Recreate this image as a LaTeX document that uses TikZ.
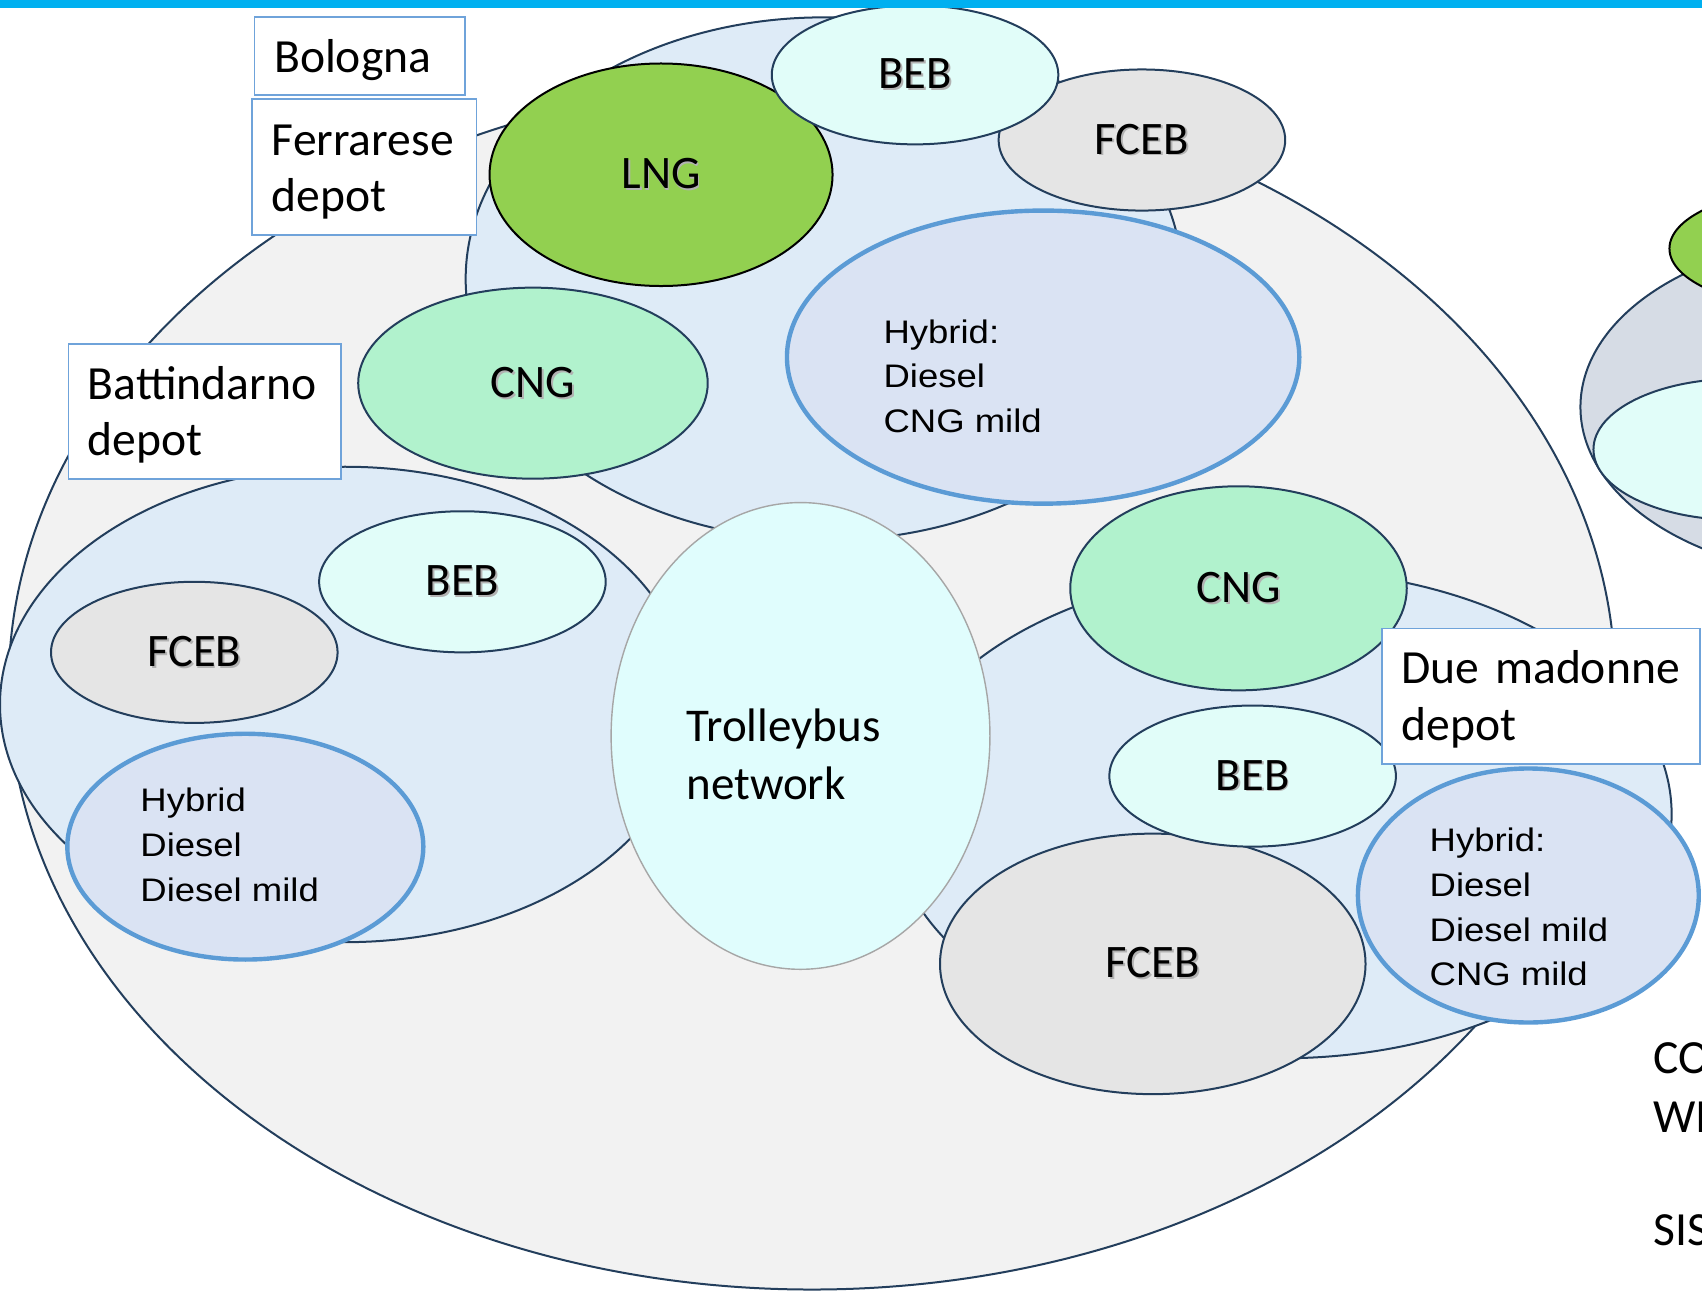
\documentclass[tikz,border=0pt]{standalone}
\usepackage{fontspec}
\setmainfont{Carlito}
\newfontfamily\hyfont[FakeStretch=1.12]{Liberation Sans}
\usetikzlibrary{shapes.geometric}
\newcommand\pxu{0.5428pt}
\definecolor{navy}{HTML}{233E5C}
\definecolor{bolfill}{HTML}{F2F2F2}
\definecolor{depfill}{HTML}{DEEBF7}
\definecolor{hybfill}{HTML}{DAE3F3}
\definecolor{hybline}{HTML}{5B9BD5}
\definecolor{lnggreen}{HTML}{92D050}
\definecolor{cngfill}{HTML}{B1F2CD}
\definecolor{bebfill}{HTML}{E1FDF9}
\definecolor{fcebfill}{HTML}{E5E5E5}
\definecolor{trolfill}{HTML}{E0FDFD}
\definecolor{trolline}{HTML}{A6A6A6}
\definecolor{greyblue}{HTML}{D6DCE5}
\definecolor{topbar}{HTML}{00B0F0}
\definecolor{boxline}{HTML}{6FA3DA}
\newcommand\shd[1]{\makebox[0pt][l]{\hspace{0.9pt}\raisebox{-0.9pt}{\textcolor{black!30}{#1}}}#1}
\tikzset{
 ell/.style n args={2}{ellipse, inner sep=0pt, minimum width={2*#1*\pxu}, minimum height={2*#2*\pxu}, draw=navy, line width=1pt},
 bol/.style={fill=bolfill},
 dep/.style={fill=depfill},
 lng/.style={fill=lnggreen, draw=black},
 cng/.style={fill=cngfill},
 beb/.style={fill=bebfill},
 fceb/.style={fill=fcebfill},
 gblue/.style={fill=greyblue},
 hyb/.style={fill=hybfill, draw=hybline, line width=2.2pt},
 trol/.style={fill=trolfill, draw=trolline, line width=0.7pt},
 lab/.style={font=\fontsize{23.3}{27}\selectfont},
 boxlab/.style={draw=boxline, line width=0.9pt, fill=white, anchor=north west, align=left, inner xsep=9.77pt, inner ysep=0pt, font=\fontsize{23.8}{28.2}\selectfont},
 hytext/.style={anchor=base west, align=left, inner sep=0pt, font=\hyfont\fontsize{16.3}{22.35}\selectfont},
 trtext/.style={anchor=base west, align=left, inner sep=0pt, font=\fontsize{23.5}{29.3}\selectfont},
 sidetext/.style={anchor=base west, inner sep=0pt, font=\fontsize{23.8}{28.2}\selectfont},
}
\begin{document}
\begin{tikzpicture}[x=0.5428pt, y=-0.5428pt]
\useasboundingbox (0,0) rectangle (1568,1195);
% partial shapes at the right edge
\node[ell={250}{156}, gblue] (rgb) at (1706,375) {};
\node[ell={132}{65}, beb] (rcy) at (1600,414) {};
\node[ell={132}{55}, lng] (rgr) at (1670,229) {};
% Bologna
\node[ell={740}{557}, bol] (bol) at (748,631) {};
% depots
\node[ell={330}{241}, dep] (fer) at (759,257) {};
\node[ell={318}{219}, dep] (bat) at (318,649) {};
\node[ell={360}{225}, dep] (due) at (1180,750) {};
% Ferrarese depot
\node[ell={158}{102.5}, lng, lab] (lngA) at (609,161) {\shd{LNG}};
\node[ell={132}{65}, fceb, lab] (fcebA) at (1052,129) {\shd{FCEB}};
\node[ell={132}{64}, beb, lab] (bebA) at (843,69) {\shd{BEB}};
\node[ell={236}{135}, hyb] (hybA) at (961,329) {};
\node[ell={161}{88}, cng, lab] (cngA) at (491,353) {\shd{CNG}};
\node[hytext] (hybAt) at (813.6,398.4) {Hybrid:\\Diesel\\CNG mild};
% Battindarno depot
\node[ell={132}{65}, fceb, lab] (fcebB) at (179,601) {\shd{FCEB}};
\node[ell={132}{65}, beb, lab] (bebB) at (426,536) {\shd{BEB}};
\node[ell={164}{104}, hyb] (hybB) at (226,780) {};
\node[hytext] (hybBt) at (129,830.4) {Hybrid\\Diesel\\Diesel mild};
% Due madonne depot
\node[ell={155}{94}, cng, lab] (cngC) at (1141,542) {\shd{CNG}};
\node[ell={196}{120}, fceb, lab] (fcebC) at (1062,888) {\shd{FCEB}};
\node[ell={132}{65}, beb, lab] (bebC) at (1154,715) {\shd{BEB}};
\node[ell={157}{117}, hyb] (hybC) at (1408,825) {};
\node[hytext] (hybCt) at (1316.7,908.2) {Hybrid:\\Diesel\\Diesel mild\\CNG mild};
% Trolleybus network
\node[ell={174.5}{215}, trol] (trol) at (737.5,678) {};
\node[trtext] (trolt) at (632,737) {Trolleybus\\network};
% label boxes
\node[boxlab, text width=85.8pt, minimum width=105.3pt, minimum height=39.0pt] (bolbox) at (233.7,14.7) {\rule{0pt}{21pt}Bologna};
\node[boxlab, text width=92.6pt, minimum width=112.1pt, minimum height=67.85pt] (ferbox) at (231.6,90.6) {\rule{0pt}{20.5pt}Ferrarese\\depot};
\node[boxlab, text width=116.7pt, minimum width=136.2pt, minimum height=67.3pt] (batbox) at (62.2,316.4) {\rule{0pt}{19.5pt}Battindarno\\depot};
\node[boxlab, text width=139.5pt, minimum width=159.0pt, minimum height=67.85pt] (duebox) at (1272.2,578.2) {\rule{0pt}{19.5pt}Due~madonne\\depot};
% cut-off text at the right edge
\node[sidetext] (co) at (1523,989) {CO};
\node[sidetext] (wi) at (1523,1043.5) {WI};
\node[sidetext] (sis) at (1523,1147) {SIS};
% top bar
\fill[topbar] (0,0) rectangle (1568,7);
\end{tikzpicture}
\end{document}
